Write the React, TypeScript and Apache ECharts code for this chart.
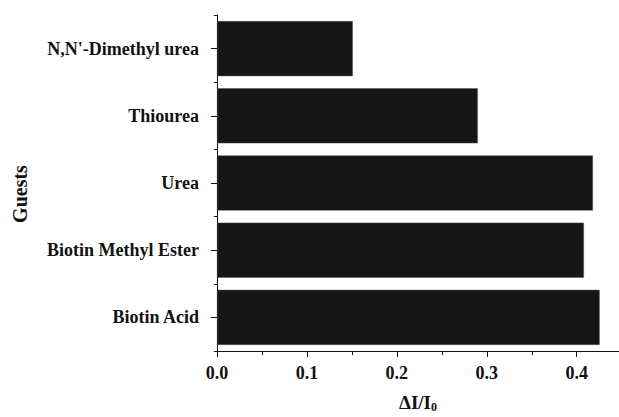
import React, { useEffect, useRef } from "react";
import * as echarts from "echarts";

const categories = ["Biotin Acid", "Biotin Methyl Ester", "Urea", "Thiourea", "N,N'-Dimethyl urea"];
const values = [0.4255, 0.408, 0.418, 0.29, 0.151];
const xTicks = [0, 0.1, 0.2, 0.3, 0.4];

const FONT = "'Liberation Serif', 'Times New Roman', serif";

export default function App() {
  const ref = useRef<HTMLDivElement>(null);
  useEffect(() => {
    if (!ref.current) return;
    const chart = echarts.init(ref.current, null, { renderer: "svg" });
    chart.setOption({
      animation: false,
      backgroundColor: "#ffffff",
      grid: { left: 217, top: 15, right: 0, bottom: 66, containLabel: false, outerBoundsMode: "none" },
      xAxis: {
        type: "value",
        min: 0,
        max: 0.447,
        interval: 0.1,
        splitLine: { show: false },
        axisLine: { show: true, lineStyle: { color: "#111", width: 1 } },
        axisTick: { show: true, length: 6, lineStyle: { color: "#111" } },
        minorTick: { show: true, splitNumber: 2, length: 4, lineStyle: { color: "#111" } },
        axisLabel: {
          margin: 13,
          showMaxLabel: false,
          color: "#111",
          fontFamily: FONT,
          fontWeight: "bold",
          fontSize: 18,
          formatter: (v: number) => {
            const hit = xTicks.find((t) => Math.abs(t - v) < 1e-6);
            return hit === undefined ? "" : hit.toFixed(1);
          },
        },
        name: "{main|ΔI/I}{sub|0}",
        nameLocation: "middle",
        nameGap: 42,
        nameTextStyle: {
          color: "#111",
          fontFamily: FONT,
          fontWeight: "bold",
          fontSize: 19,
          rich: {
            main: { fontFamily: FONT, fontWeight: "bold", fontSize: 19, lineHeight: 20, color: "#111", verticalAlign: "top" },
            sub: { fontFamily: FONT, fontWeight: "bold", fontSize: 12, lineHeight: 20, verticalAlign: "bottom", padding: [8, 0, 0, 0], color: "#111" },
          },
        },
      },
      yAxis: [
        {
          type: "category",
          data: categories,
          axisLine: { show: true, lineStyle: { color: "#111", width: 1 } },
          axisTick: { show: true, alignWithLabel: true, length: 6, lineStyle: { color: "#111" } },
          axisLabel: {
            margin: 18,
            color: "#111",
            fontFamily: FONT,
            fontWeight: "bold",
            fontSize: 18,
          },
        },
        {
          type: "value",
          position: "left",
          min: 0,
          max: 5,
          interval: 1,
          axisLine: { show: false },
          axisTick: { show: true, length: 3, lineStyle: { color: "#111" } },
          axisLabel: { show: false },
          splitLine: { show: false },
        },
      ],
      series: [
        {
          type: "bar",
          data: values,
          yAxisIndex: 0,
          barCategoryGap: "18%",
          itemStyle: { color: "#161616", borderColor: "#555", borderWidth: 0.5 },
        },
      ],
      graphic: [
        {
          type: "text",
          x: 20,
          y: 194,
          rotation: Math.PI / 2,
          style: {
            text: "Guests",
            fill: "#111",
            font: `bold 20px ${FONT}`,
            textAlign: "center",
            textVerticalAlign: "middle",
          },
        },
      ],
    });
    return () => chart.dispose();
  }, []);
  return <div ref={ref} style={{ width: 619, height: 417, position: "absolute", left: 0, top: 0 }} />;
}
